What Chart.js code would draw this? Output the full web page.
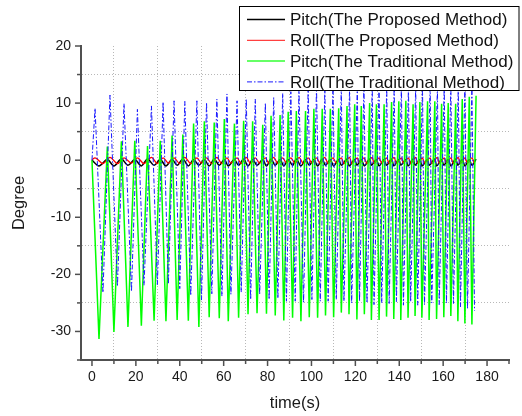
<!DOCTYPE html>
<html>
<head>
<meta charset="utf-8">
<script src="https://cdn.jsdelivr.net/npm/chart.js@4.4.1/dist/chart.umd.min.js"></script>
<style>
  body { margin: 0; background: #fff; }
  canvas { display: block; }
</style>
</head>
<body>
<canvas id="attitudeChart" width="522" height="416"></canvas>
<script>
// turning points, time in seconds
const greenTimes = [0,
  3.2, 7.0, 10.0, 13.4, 16.4, 19.5, 22.5, 25.3, 28.3, 31.1,
  33.7, 36.5, 38.8, 41.4, 43.9, 46.3, 48.7, 51.2, 53.4, 55.7,
  58.0, 60.3, 62.1, 64.9, 66.8, 69.1, 71.1, 73.2, 75.2, 77.8,
  79.5, 81.6, 83.5, 85.7, 87.4, 89.4, 91.4, 93.1, 95.2, 97.3,
  99.0, 101.1, 102.8, 104.9, 106.4, 108.6, 110.1, 112.4, 113.6, 116.2,
  117.1, 119.7, 120.7, 122.7, 124.1, 126.5, 127.3, 129.6, 130.8, 133.1,
  134.2, 136.5, 137.5, 139.8, 140.7, 143.0, 144.0, 146.3, 147.2, 149.4,
  150.3, 152.9, 153.6, 156.2, 157.0, 159.3, 160.3, 162.3, 163.5, 165.7,
  166.7, 168.7, 169.9, 171.9, 173.1, 175.0];

const blueTimes = [0,
  1.4, 5.0, 8.2, 11.6, 14.6, 18.0, 20.7, 23.7, 27.1, 29.8,
  32.4, 34.8, 37.4, 40.0, 42.3, 45.0, 47.8, 49.9, 52.2, 54.6,
  56.9, 59.2, 61.5, 63.3, 66.1, 68.0, 70.3, 72.3, 74.4, 76.4,
  79.0, 80.7, 82.8, 84.7, 86.9, 88.6, 90.6, 92.6, 94.3, 96.4,
  98.5, 100.2, 102.3, 104.0, 106.1, 107.6, 109.8, 111.3, 113.6, 114.8,
  117.4, 118.3, 120.9, 121.9, 123.9, 125.3, 127.7, 128.5, 130.8, 132.0,
  134.3, 135.4, 137.7, 138.7, 141.0, 141.9, 144.2, 145.2, 147.5, 148.4,
  150.6, 151.5, 154.1, 154.8, 157.4, 158.2, 160.5, 161.5, 163.5, 164.7,
  166.9, 167.9, 169.9, 171.1, 173.1, 174.3];

// Pitch (traditional) at greenTimes
const pitchTrad = [0,
  -31.3, 2.4, -30.1, 3.3, -29.2, 3.4, -29.0, 2.5, -28.1, 3.4,
  -28.2, 4.3, -28.0, 4.5, -28.1, 6.4, -29.2, 6.8, -27.5, 6.6,
  -27.7, 7.2, -28.2, 6.4, -27.6, 6.9, -27.0, 6.8, -26.8, 6.2,
  -26.9, 7.8, -27.2, 7.9, -28.1, 8.5, -27.6, 8.6, -28.2, 8.6,
  -27.5, 9.0, -27.6, 9.0, -27.2, 9.0, -27.5, 9.1, -26.7, 9.5,
  -27.0, 9.8, -27.9, 9.5, -27.0, 10.0, -28.0, 9.8, -28.0, 9.8,
  -27.4, 10.2, -27.8, 10.3, -28.0, 10.4, -27.6, 9.8, -27.3, 10.2,
  -27.6, 10.3, -28.0, 10.3, -27.8, 9.9, -27.5, 10.0, -27.3, 9.9,
  -28.2, 10.7, -28.6, 11.1, -28.8, 11.3];

// Roll (traditional) at blueTimes
const rollTrad = [0,
  9.1, -23.2, 11.4, -22.1, 9.9, -23.0, 8.9, -21.9, 9.5, -21.8,
  10.2, -21.7, 10.4, -22.5, 10.3, -23.7, 10.4, -24.5, 10.1, -23.4,
  10.7, -23.8, 11.6, -23.5, 10.4, -23.1, 10.7, -24.4, 10.7, -23.5,
  10.0, -24.4, 11.0, -24.2, 11.7, -24.7, 12.0, -24.7, 12.4, -24.9,
  12.6, -24.4, 12.8, -24.7, 12.5, -24.7, 12.9, -24.4, 12.7, -24.7,
  13.0, -25.0, 12.8, -24.7, 13.1, -25.0, 12.9, -25.3, 13.2, -25.0,
  12.8, -25.1, 13.0, -24.8, 13.3, -25.4, 12.9, -24.8, 13.1, -25.4,
  13.0, -25.3, 13.4, -25.0, 12.9, -25.3, 13.2, -25.0, 13.1, -25.1,
  13.0, -25.7, 13.3, -26.0, 12.8, -26.4];

// Pitch (proposed) at greenTimes
const pitchProp = [0,
  -1.0, 0.1, -1.0, 0.2, -0.9, 0.1, -1.0, 0.2, -0.9, 0.1,
  -1.0, 0.1, -0.9, 0.2, -1.0, 0.1, -0.9, 0.1, -1.0, 0.2,
  -0.9, 0.1, -1.0, 0.1, -0.9, 0.2, -1.0, 0.1, -0.9, 0.1,
  -1.0, 0.2, -0.9, 0.1, -1.0, 0.1, -0.9, 0.2, -1.0, 0.1,
  -0.9, 0.1, -1.0, 0.2, -0.9, 0.1, -1.0, 0.1, -0.9, 0.2,
  -1.0, 0.1, -0.9, 0.1, -1.0, 0.2, -0.9, 0.1, -1.0, 0.1,
  -0.9, 0.2, -1.0, 0.1, -0.9, 0.1, -1.0, 0.2, -0.9, 0.1,
  -1.0, 0.1, -0.9, 0.2, -1.0, 0.1, -0.9, 0.1, -1.0, 0.2,
  -0.9, 0.1, -1.0, 0.1, -0.9, 0.2];

// Roll (proposed) at blueTimes
const rollProp = [0.1,
  0.4, -0.6, 0.5, -0.6, 0.4, -0.5, 0.4, -0.6, 0.5, -0.6,
  0.4, -0.5, 0.4, -0.6, 0.5, -0.6, 0.4, -0.5, 0.4, -0.6,
  0.5, -0.6, 0.4, -0.5, 0.4, -0.6, 0.5, -0.6, 0.4, -0.5,
  0.4, -0.6, 0.5, -0.6, 0.4, -0.5, 0.4, -0.6, 0.5, -0.6,
  0.4, -0.5, 0.4, -0.6, 0.5, -0.6, 0.4, -0.5, 0.4, -0.6,
  0.5, -0.6, 0.4, -0.5, 0.4, -0.6, 0.5, -0.6, 0.4, -0.5,
  0.4, -0.6, 0.5, -0.6, 0.4, -0.5, 0.4, -0.6, 0.5, -0.6,
  0.4, -0.5, 0.4, -0.6, 0.5, -0.6, 0.4, -0.5, 0.4, -0.6,
  0.5, -0.6, 0.4, -0.5, 0.4, -0.6];

const seriesNames = [
  'Pitch(The Proposed Method)',
  'Roll(The Proposed Method)',
  'Pitch(The Traditional Method)',
  'Roll(The Traditional Method)'
];

const pts = (ts, vs) => ts.map((t, i) => ({ x: t, y: vs[i] }));

Chart.defaults.font.family = '"Liberation Sans", Arial, sans-serif';
Chart.defaults.color = '#1a1a1a';

const axisColor = '#505050';

// Origin style tick marks: long at labelled values, short in between
const axisTicks = {
  id: 'axisTicks',
  afterDraw(chart) {
    const c = chart.ctx;
    const x = chart.scales.x, y = chart.scales.y;
    c.save();
    c.strokeStyle = axisColor;
    c.lineWidth = 1.5;
    x.ticks.forEach(t => {
      if (t.value < 0) return;
      const px = x.getPixelForValue(t.value);
      const len = t.value % 20 === 0 ? 5 : 3;
      c.beginPath();
      c.moveTo(px, x.top);
      c.lineTo(px, x.top + 1 + len);
      c.stroke();
    });
    y.ticks.forEach(t => {
      const py = y.getPixelForValue(t.value);
      const len = t.value % 10 === 0 ? 5 : 3;
      c.beginPath();
      c.moveTo(y.right, py);
      c.lineTo(y.right - 1 - len, py);
      c.stroke();
    });
    c.restore();
  }
};

// boxed legend sitting over the plot, top right
const boxLegend = {
  id: 'boxLegend',
  afterDraw(chart) {
    const c = chart.ctx;
    c.save();
    c.fillStyle = '#fff';
    c.fillRect(239.5, 6.5, 279.5, 84);
    c.strokeStyle = '#000';
    c.lineWidth = 1;
    c.strokeRect(239.5, 6.5, 279.5, 84);
    c.font = '17px "Liberation Sans", Arial, sans-serif';
    c.textBaseline = 'middle';
    chart.data.datasets.forEach((ds, i) => {
      const ly = 19.5 + i * 20.8;
      c.strokeStyle = ds.legendColor || ds.borderColor;
      c.lineWidth = ds.legendWidth || ds.borderWidth;
      c.setLineDash(ds.borderDash || []);
      c.beginPath();
      c.moveTo(247, ly);
      c.lineTo(285, ly);
      c.stroke();
      c.setLineDash([]);
      c.fillStyle = '#111';
      c.fillText(ds.label, 290, ly + 1);
    });
    c.restore();
  }
};

const ctx = document.getElementById('attitudeChart').getContext('2d');
const attitudeChart = new Chart(ctx, {
  type: 'line',
  data: {
    datasets: [
      {
        label: seriesNames[0],
        data: pts(greenTimes, pitchProp),
        borderColor: '#000000',
        borderWidth: 1.5,
        cubicInterpolationMode: 'monotone',
        order: 3
      },
      {
        label: seriesNames[1],
        data: pts(blueTimes, rollProp),
        borderColor: '#ff0000',
        legendColor: '#ff4040',
        borderWidth: 1.3,
        cubicInterpolationMode: 'monotone',
        order: 2
      },
      {
        label: seriesNames[2],
        data: pts(greenTimes, pitchTrad),
        borderColor: '#00ff00',
        legendColor: '#66ff66',
        legendWidth: 2,
        borderWidth: 1.5,
        order: 1
      },
      {
        label: seriesNames[3],
        data: pts(blueTimes, rollTrad),
        borderColor: '#1a1aff',
        borderWidth: 1,
        borderDash: [5, 2, 1.5, 2],
        order: 0
      }
    ]
  },
  options: {
    responsive: false,
    animation: false,
    layout: { padding: { left: 0, right: 13, top: 46, bottom: 0 } },
    elements: { point: { radius: 0 }, line: { tension: 0 } },
    plugins: {
      legend: { display: false },
      tooltip: { enabled: false }
    },
    scales: {
      x: {
        type: 'linear',
        min: -5,
        max: 190,
        afterFit(s) { s.height = 56; },
        ticks: {
          stepSize: 10,
          includeBounds: false,
          autoSkip: false,
          maxRotation: 0,
          padding: 9,
          font: { size: 14 },
          callback: v => (v >= 0 && v <= 180 && v % 20 === 0) ? String(v) : ''
        },
        grid: {
          drawTicks: false,
          lineWidth: 1,
          color: c => (c.tick && c.tick.value % 20 === 10 && c.tick.value <= 180) ? '#b8b8b8' : 'rgba(0,0,0,0)'
        },
        border: { display: true, color: axisColor, width: 2, dash: [1, 2] },
        title: {
          display: true,
          text: 'time(s)',
          font: { size: 16.5 },
          padding: { top: 0, bottom: 3 }
        }
      },
      y: {
        min: -35,
        max: 20,
        afterFit(s) { s.width = 81; },
        ticks: {
          stepSize: 5,
          autoSkip: false,
          padding: 10,
          font: { size: 14 },
          callback: v => v % 10 === 0 ? String(v) : ''
        },
        grid: {
          drawTicks: false,
          lineWidth: 1,
          color: c => (c.tick && Math.abs(c.tick.value % 10) === 5 && c.tick.value > -35) ? '#b8b8b8' : 'rgba(0,0,0,0)'
        },
        border: { display: true, color: axisColor, width: 2, dash: [1, 2] },
        title: {
          display: true,
          text: 'Degree',
          font: { size: 16.5 },
          padding: { top: 10, bottom: 0 }
        }
      }
    }
  },
  plugins: [axisTicks, boxLegend]
});
</script>
</body>
</html>
